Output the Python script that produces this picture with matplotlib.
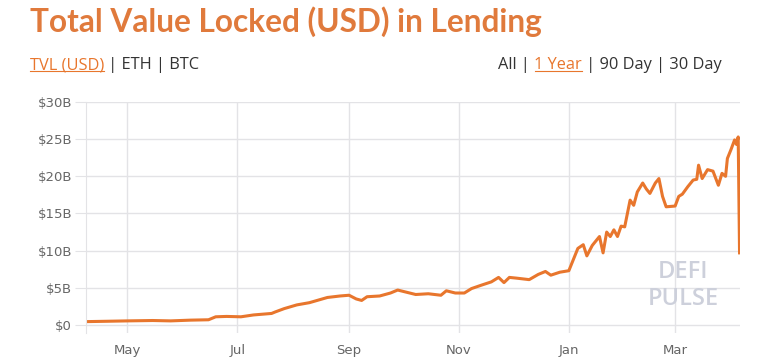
import numpy as np
import pandas as pd
import matplotlib
matplotlib.use("Agg")
import matplotlib.pyplot as plt
import matplotlib.dates as mdates
from matplotlib.ticker import FuncFormatter

# TVL in lending, billions of USD
dates = [
    "2020-04-08", "2020-04-20", "2020-05-01", "2020-05-15", "2020-05-25",
    "2020-06-05", "2020-06-15", "2020-06-19", "2020-06-25", "2020-07-03",
    "2020-07-10", "2020-07-20", "2020-07-22", "2020-07-27", "2020-08-03",
    "2020-08-10", "2020-08-20", "2020-08-27", "2020-09-01", "2020-09-05",
    "2020-09-08", "2020-09-11", "2020-09-18", "2020-09-24", "2020-09-28",
    "2020-10-03", "2020-10-08", "2020-10-15", "2020-10-22", "2020-10-25",
    "2020-10-30", "2020-11-04", "2020-11-08", "2020-11-14", "2020-11-19",
    "2020-11-23", "2020-11-26", "2020-11-29", "2020-12-03", "2020-12-10",
    "2020-12-15", "2020-12-19", "2020-12-22", "2020-12-27", "2021-01-01",
    "2021-01-03", "2021-01-06", "2021-01-09", "2021-01-11", "2021-01-14",
    "2021-01-18", "2021-01-20", "2021-01-22", "2021-01-24", "2021-01-26",
    "2021-01-28", "2021-01-30", "2021-02-01", "2021-02-04", "2021-02-06",
    "2021-02-08", "2021-02-11", "2021-02-13", "2021-02-15", "2021-02-18",
    "2021-02-20", "2021-02-22", "2021-02-24", "2021-03-01", "2021-03-03",
    "2021-03-05", "2021-03-08", "2021-03-11", "2021-03-13", "2021-03-14",
    "2021-03-16", "2021-03-19", "2021-03-22", "2021-03-25", "2021-03-27",
    "2021-03-29", "2021-03-30", "2021-04-01", "2021-04-03", "2021-04-04",
    "2021-04-05 00:00", "2021-04-05 18:00",
]
tvl = [
    0.45, 0.5, 0.55, 0.6, 0.55,
    0.65, 0.7, 1.1, 1.15, 1.1,
    1.35, 1.55, 1.75, 2.2, 2.7,
    3.0, 3.7, 3.9, 4.0, 3.5,
    3.3, 3.8, 3.9, 4.3, 4.7,
    4.4, 4.1, 4.2, 4.0, 4.6,
    4.3, 4.3, 4.9, 5.4, 5.8,
    6.4, 5.7, 6.4, 6.3, 6.1,
    6.8, 7.2, 6.7, 7.1, 7.3,
    8.5, 10.3, 10.8, 9.3, 10.7,
    11.9, 9.7, 12.5, 11.9, 12.8,
    11.9, 13.3, 13.2, 16.8, 16.1,
    17.9, 19.1, 18.3, 17.7, 19.1,
    19.7, 17.3, 15.9, 16.0, 17.3,
    17.6, 18.6, 19.5, 19.6, 21.5,
    19.7, 20.9, 20.7, 18.8, 20.4,
    20.0, 22.4, 23.6, 24.9, 24.3,
    25.3, 9.7,
]
y_ticks = [0, 5, 10, 15, 20, 25, 30]

orange = "#e8762d"
grid_c = "#e3e3e6"
text_c = "#666666"

x = pd.to_datetime(dates, format="ISO8601")

fig = plt.figure(figsize=(7.8, 3.59), dpi=100)
ax = fig.add_axes([86 / 780, 1 - 333 / 359, 654 / 780, 231 / 359])

ax.plot(x, tvl, color=orange, lw=2.2, solid_joinstyle="round")

ax.set_xlim(pd.Timestamp("2020-04-08"), pd.Timestamp("2021-04-06"))
ax.set_ylim(-1.08, 30)
ax.set_yticks(y_ticks)
ax.yaxis.set_major_formatter(FuncFormatter(lambda v, p: "$0" if v == 0 else f"${v:.0f}B"))
ax.xaxis.set_major_locator(mdates.MonthLocator(bymonth=[1, 3, 5, 7, 9, 11]))
ax.xaxis.set_major_formatter(mdates.DateFormatter("%b"))

ax.grid(True, color=grid_c, lw=1)
ax.set_axisbelow(True)
for s in ["top", "right", "bottom"]:
    ax.spines[s].set_visible(False)
ax.spines["left"].set_color(grid_c)
ax.tick_params(axis="y", length=8, color=grid_c, labelcolor=text_c, labelsize=9.5, pad=2)
ax.tick_params(axis="x", length=0, labelcolor=text_c, labelsize=9.5, pad=8)

# watermark
ax.text(0.913, 0.265, "DEFI", transform=ax.transAxes, ha="center", va="center",
        fontsize=17, fontweight="semibold", color="#cdd0db", family="Open Sans")
ax.text(0.913, 0.148, "PULSE", transform=ax.transAxes, ha="center", va="center",
        fontsize=17, fontweight="semibold", color="#cdd0db", family="Open Sans")

# title
fig.text(30 / 780, 1 - 22 / 359, "Total Value Locked (USD) in Lending", ha="left", va="center",
         fontsize=22.8, fontweight="bold", color="#e07a3c", family="Lato")

fig.canvas.draw()
renderer = fig.canvas.get_renderer()


def text_row(parts, x0, y0, align="left"):
    # draw pieces one after another, underline the orange ones
    objs = []
    xx = x0
    for s, c, ul in parts:
        t = fig.text(xx, y0, s, ha="left", va="center", fontsize=11.8, color=c, family="Open Sans")
        bb = t.get_window_extent(renderer)
        objs.append((t, ul, c))
        xx = bb.x1 / fig.bbox.width
    if align == "right":
        shift = x0 - xx
        for t, _, _ in objs:
            t.set_x(t.get_position()[0] + shift)
    for t, ul, c in objs:
        if ul:
            bb = t.get_window_extent(renderer)
            W, H = fig.bbox.width, fig.bbox.height
            yl = (bb.y0 + 2) / H
            fig.add_artist(plt.Line2D([bb.x0 / W, bb.x1 / W], [yl, yl], color=c, lw=0.8))


dark = "#333333"
text_row([("TVL (USD)", orange, True), (" | ETH | BTC", dark, False)], 30 / 780, 1 - 65 / 359)
text_row([("All | ", dark, False), ("1 Year", orange, True), (" | 90 Day | 30 Day", dark, False)],
         722 / 780, 1 - 65 / 359, align="right")

fig.savefig("out.png", dpi=100)
